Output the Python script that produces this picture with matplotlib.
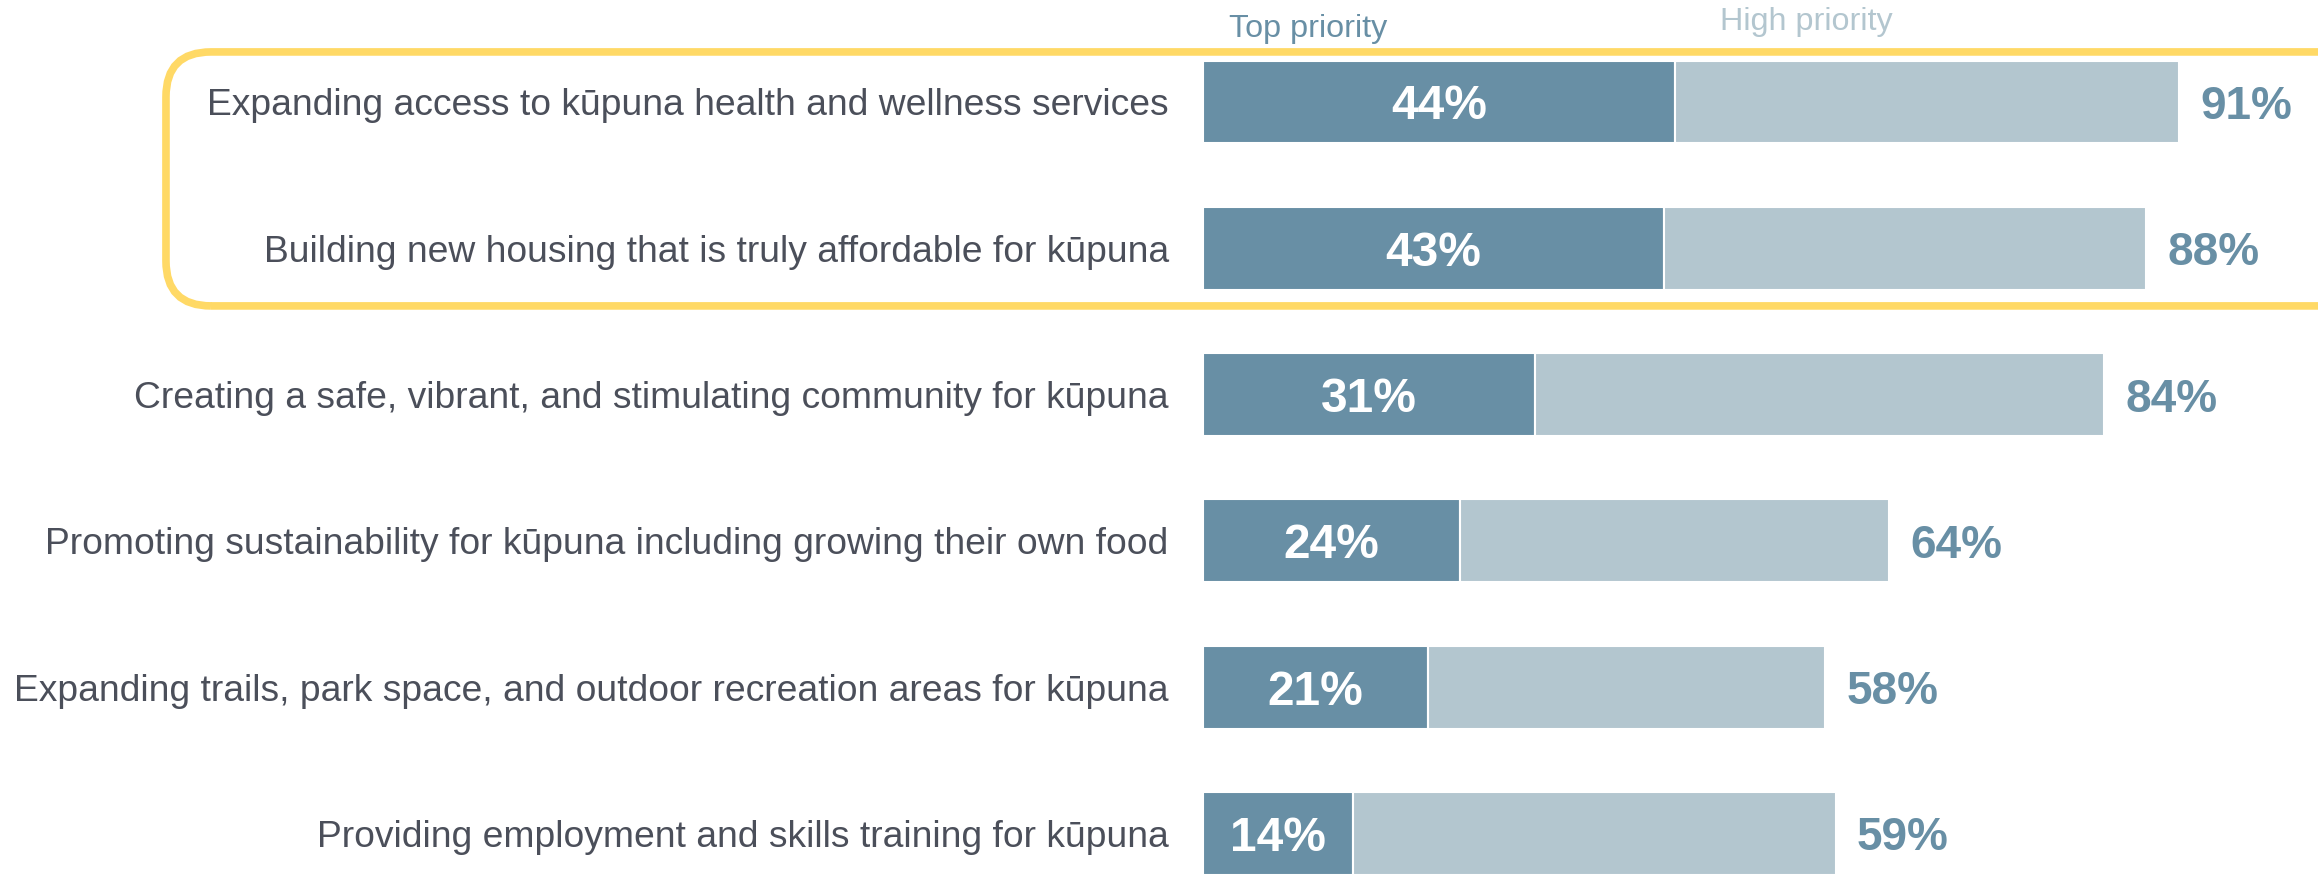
import matplotlib
matplotlib.use("Agg")
import matplotlib.pyplot as plt
from matplotlib.patches import FancyBboxPatch
from matplotlib.transforms import IdentityTransform
import numpy as np

categories = [
    "Expanding access to kūpuna health and wellness services",
    "Building new housing that is truly affordable for kūpuna",
    "Creating a safe, vibrant, and stimulating community for kūpuna",
    "Promoting sustainability for kūpuna including growing their own food",
    "Expanding trails, park space, and outdoor recreation areas for kūpuna",
    "Providing employment and skills training for kūpuna",
]
top_priority = [44, 43, 31, 24, 21, 14]
total_priority = [91, 88, 84, 64, 58, 59]
series_names = ["Top priority", "High priority"]

dark = "#688fa5"
light = "#b3c6cf"
label_grey = "#4b4f5a"
gold = "#ffd966"

plt.rcParams["font.family"] = ["Liberation Sans", "DejaVu Sans"]

fig = plt.figure(figsize=(23.18, 8.74), dpi=100)
ax = fig.add_axes([0.519, 0.0, 0.4625, 1.0])

y = np.arange(len(categories))
top = np.array(top_priority)
total = np.array(total_priority)
high = total - top

ax.barh(y, top, height=0.566, color=dark, edgecolor="white", linewidth=1.5)
ax.barh(y, high, left=top, height=0.566, color=light, edgecolor="white", linewidth=1.5)

ax.set_xlim(0, 100)
ax.set_ylim(5.277, -0.697)
ax.axis("off")

for i in range(len(categories)):
    ax.text(top[i] / 2, y[i], f"{top[i]}%", ha="center", va="center_baseline",
            color="white", fontsize=34.5, fontweight="bold")
    ax.text(total[i] + 2.0, y[i], f"{total[i]}%", ha="left", va="center_baseline",
            color=dark, fontsize=33, fontweight="bold")
    ax.text(-3.2, y[i], categories[i], ha="right", va="center_baseline",
            color=label_grey, fontsize=26.8, clip_on=False)

ax.text(2.4, -0.50, series_names[0], ha="left", va="center", color=dark,
        fontsize=23.3)
ax.text(48.2, -0.55, series_names[1], ha="left", va="center", color=light,
        fontsize=23.3)

# highlight box around the two leading items (open on the right side)
fig.canvas.draw()
W = fig.bbox.width
_, y_top = ax.transData.transform((0, -0.342))
_, y_bot = ax.transData.transform((0, 1.394))
box = FancyBboxPatch((0.0716 * W, y_bot), W, y_top - y_bot,
                     boxstyle="round,pad=0,rounding_size=45",
                     transform=IdentityTransform(), facecolor="none",
                     edgecolor=gold, linewidth=5.5, zorder=0)
fig.patches.append(box)

fig.savefig("out.png", dpi=100, facecolor="white")
